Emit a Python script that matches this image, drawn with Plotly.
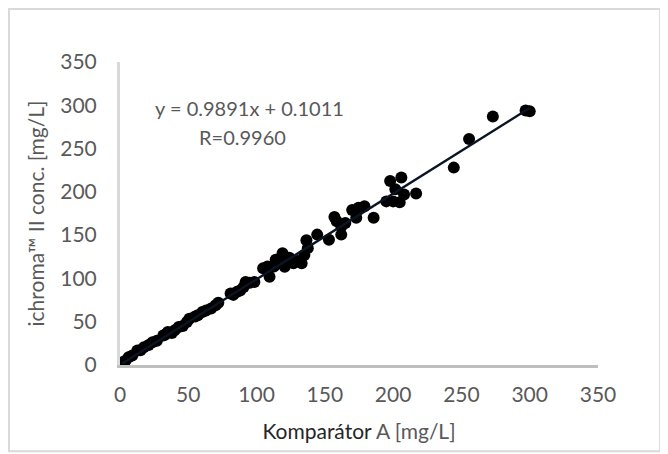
import plotly.graph_objects as go

comparator_a = [1.6, 4, 6.3, 9, 12.7, 15, 17.5, 21, 23.8, 27, 31.7, 33, 35, 38, 40, 43, 46, 49, 50.8,
                55, 57, 60.3, 63, 66.7, 70, 72, 81, 83, 85.7, 88, 90.5, 92, 95, 98.4,
                104.8, 108, 109.5, 112.7, 114, 119, 119, 120.6, 122, 124, 127, 130, 133, 135, 136.5, 137.5,
                144.4, 153, 157, 158.7, 162, 162, 165, 170, 173, 174.6, 179, 185.7,
                195, 197.8, 200, 201.6, 204.8, 206, 208, 216.8, 244.4, 255.6, 273, 297, 300]
ichroma_ii = [3, 5, 9, 11, 16.7, 17, 20.6, 23, 26.4, 28, 34, 35, 38, 37, 40, 43.8, 45, 49.7, 53.5,
              56, 57.4, 61.3, 63, 65.2, 69, 72, 82.6, 81, 84.6, 86, 90, 96, 95, 96,
              111.8, 113.7, 102, 113.7, 121.5, 129, 125, 113.6, 121.5, 124, 117.6, 120, 117.6, 127, 144, 135,
              150.6, 144.7, 171, 166, 160, 150.6, 164, 179, 170, 181.6, 183.5, 170,
              189, 212.6, 189, 203, 188, 216.5, 197, 198, 228, 261, 287, 294, 293]

slope = 0.9891
intercept = 0.1011
fit_x = [min(comparator_a), max(comparator_a)]
fit_y = [slope * v + intercept for v in fit_x]

x_ticks = [0, 50, 100, 150, 200, 250, 300, 350]
y_ticks = [0, 50, 100, 150, 200, 250, 300, 350]

FONT = "Lato"
GRAY = "#595959"

fig = go.Figure()
fig.add_trace(go.Scatter(x=comparator_a, y=ichroma_ii, mode="markers",
                         marker=dict(color="#000000", size=12, line=dict(width=0)),
                         showlegend=False, hoverinfo="x+y"))
fig.add_trace(go.Scatter(x=fit_x, y=fit_y, mode="lines",
                         line=dict(color="#0b1424", width=2.5), showlegend=False))

fig.update_layout(
    width=660, height=446,
    paper_bgcolor="white", plot_bgcolor="white",
    margin=dict(l=112, r=70, t=54, b=89),
    font=dict(family=FONT, color=GRAY, size=21),
    xaxis=dict(range=[0, 350], tickvals=x_ticks, ticktext=[str(v) for v in x_ticks],
               showgrid=False, zeroline=False, showline=True, linecolor="#bfbfbf", linewidth=3,
               ticks="", ticklabelstandoff=9, tickfont=dict(size=21, color=GRAY),
               title=dict(text="<span style='color:#262626'>Komparátor</span> A [mg/L]",
                          font=dict(size=21, color=GRAY), standoff=20)),
    yaxis=dict(range=[0, 350], tickvals=y_ticks, ticktext=[str(v) for v in y_ticks],
               showgrid=False, zeroline=False, showline=True, linecolor="#d9d9d9", linewidth=3,
               ticks="", ticklabelstandoff=16, tickfont=dict(size=21, color=GRAY),
               title=dict(text="ichroma™ II conc. [mg/L]", font=dict(size=21, color=GRAY), standoff=10)),
    shapes=[dict(type="rect", xref="paper", yref="paper",
                 x0=-0.2322, x1=1.13, y0=-0.285, y1=1.175,
                 line=dict(color="#d9d9d9", width=2), fillcolor="rgba(0,0,0,0)", layer="below")],
    annotations=[
        dict(text="y = 0.9891x + 0.1011", xref="x", yref="y", x=95, y=297,
             showarrow=False, font=dict(size=20, color=GRAY)),
        dict(text="R=0.9960", xref="x", yref="y", x=90, y=263,
             showarrow=False, font=dict(size=20, color=GRAY)),
    ],
)

fig.write_html("out.html")
